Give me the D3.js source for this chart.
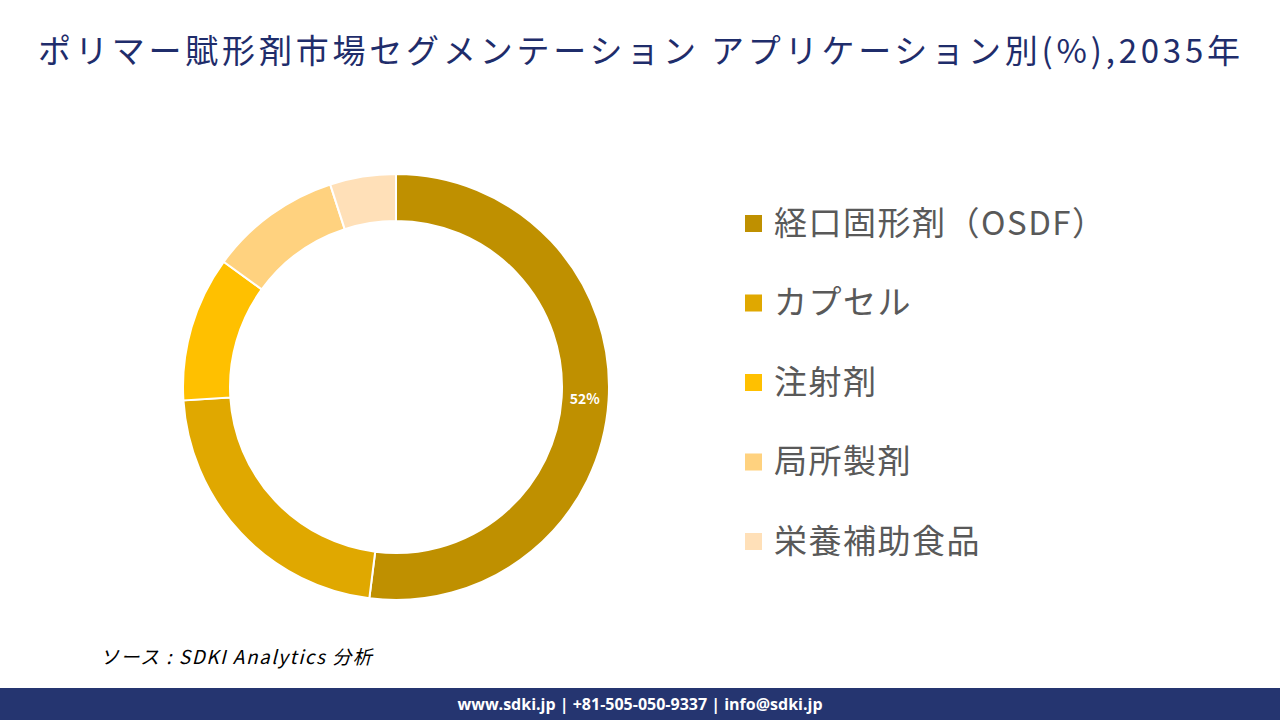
<!DOCTYPE html>
<html><head><meta charset="utf-8">
<script src="https://cdn.jsdelivr.net/npm/d3@7"></script>
<style>body{margin:0;background:#fff}svg{display:block}</style>
</head><body>
<svg id="chart" width="1280" height="720"></svg>
<script>
// Segment names and shares (%)
let segments = ["経口固形剤（OSDF）", "カプセル", "注射剤", "局所製剤", "栄養補助食品"];
let shares = [52, 22, 11, 10, 5];
let colors = ["#BF9000", "#E0A800", "#FFC000", "#FFD27F", "#FFE0B8"];

let svg = d3.select("#chart");
let font = "'Noto Sans CJK JP', sans-serif";

// Title
svg.append("text")
	.attr("x", 641).attr("y", 63)
	.attr("text-anchor", "middle")
	.attr("font-family", font)
	.attr("font-size", "33px")
	.attr("letter-spacing", "3.8px")
	.attr("fill", "#1F2D6B")
	.text("ポリマー賦形剤市場セグメンテーション アプリケーション別(%),2035年");

// Donut
let pie = d3.pie().sort(null).value(d => d)(shares);
let arc = d3.arc().innerRadius(166).outerRadius(213);
let g = svg.append("g").attr("transform", "translate(396,387)");

g.selectAll("path")
	.data(pie)
	.enter()
	.append("path")
	.attr("d", arc)
	.attr("fill", (d, i) => colors[i])
	.attr("stroke", "#fff")
	.attr("stroke-width", 2);

let labelArc = d3.arc().innerRadius(189).outerRadius(189);
g.append("text")
	.attr("transform", "translate(" + labelArc.centroid(pie[0]) + ")")
	.attr("text-anchor", "middle")
	.attr("dy", "0.35em")
	.attr("font-family", font)
	.attr("font-weight", "bold")
	.attr("font-size", "14px")
	.attr("fill", "#fff")
	.text(shares[0] + "%");

// Legend
let legendY = d3.scalePoint().domain(segments).range([223, 541]);
let legend = svg.selectAll(".legend")
	.data(segments)
	.enter()
	.append("g")
	.attr("transform", d => "translate(745," + legendY(d) + ")");

legend.append("rect")
	.attr("x", 0).attr("y", -8)
	.attr("width", 17).attr("height", 17)
	.attr("fill", (d, i) => colors[i]);

legend.append("text")
	.attr("x", 29).attr("dy", "0.36em")
	.attr("font-family", font)
	.attr("font-size", "33px")
	.attr("letter-spacing", "1.5px")
	.attr("fill", "#595959")
	.text(d => d);

// Source
svg.append("text")
	.attr("x", 100).attr("y", 664)
	.attr("font-family", font)
	.attr("font-style", "italic")
	.attr("font-size", "19px")
	.attr("letter-spacing", "1.5px")
	.attr("fill", "#000")
	.text("ソース : SDKI Analytics  分析");

// Footer band
svg.append("rect")
	.attr("x", 0).attr("y", 688)
	.attr("width", 1280).attr("height", 32)
	.attr("fill", "#253570");

svg.append("text")
	.attr("x", 640).attr("y", 710)
	.attr("text-anchor", "middle")
	.attr("font-family", "'Open Sans', sans-serif")
	.attr("font-weight", "bold")
	.attr("font-size", "16px")
	.attr("fill", "#fff")
	.text("www.sdki.jp | +81-505-050-9337 | info@sdki.jp");
</script>
</body></html>
